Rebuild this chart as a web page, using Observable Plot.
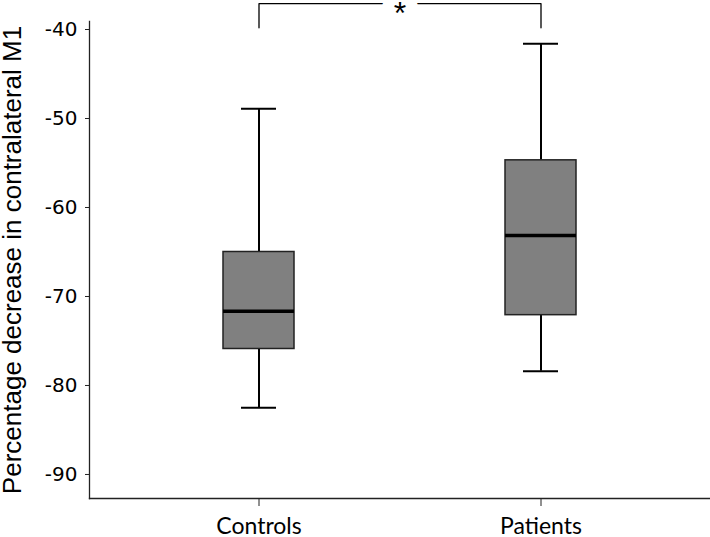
<!DOCTYPE html>
<html><head><meta charset="utf-8">
<script src="https://cdn.jsdelivr.net/npm/d3@7"></script>
<script src="https://cdn.jsdelivr.net/npm/@observablehq/plot@0.6"></script>
<style>body{margin:0;background:#fff;} #chart{width:710px;height:537px;}</style>
</head><body><div id="chart"></div>
<script>
const groups = ["Controls", "Patients"];
const whiskerLow = [-82.5, -78.4];
const q1 = [-75.9, -72.1];
const median = [-71.65, -63.15];
const q3 = [-65.0, -54.7];
const whiskerHigh = [-48.9, -41.6];
const yTicks = [-40, -50, -60, -70, -80, -90];
const yLabel = "Percentage decrease in contralateral M1";
const sigLabel = "*";
const bracketTop = -37.1;
const bracketEnd = -39.8;

const boxes = groups.map((g, i) => ({group: g, lo: whiskerLow[i], q1: q1[i], med: median[i], q3: q3[i], hi: whiskerHigh[i]}));
const bracket = [
  {group: groups[0], y: bracketEnd},
  {group: groups[0], y: bracketTop},
  {group: groups[1], y: bracketTop},
  {group: groups[1], y: bracketEnd}
];

const chart = Plot.plot({
  width: 710, height: 537,
  marginLeft: 89, marginRight: 0, marginTop: 21, marginBottom: 39,
  style: {background: "#fff", color: "#000", overflow: "visible", fontFamily: "Liberation Sans, Arial, sans-serif"},
  x: {domain: groups, type: "band", paddingInner: 0.748, paddingOuter: 0.475, label: null},
  y: {domain: [-92.7, -39.1], label: null},
  marks: [
    Plot.ruleX(boxes, {x: "group", y1: "lo", y2: "q1", stroke: "#000", strokeWidth: 2}),
    Plot.ruleX(boxes, {x: "group", y1: "q3", y2: "hi", stroke: "#000", strokeWidth: 2}),
    Plot.tickY(boxes, {x: "group", y: "lo", insetLeft: 18, insetRight: 18, stroke: "#000", strokeWidth: 2}),
    Plot.tickY(boxes, {x: "group", y: "hi", insetLeft: 18, insetRight: 18, stroke: "#000", strokeWidth: 2}),
    Plot.barY(boxes, {x: "group", y1: "q1", y2: "q3", fill: "#808080", stroke: "#222", strokeWidth: 1.5}),
    Plot.tickY(boxes, {x: "group", y: "med", stroke: "#000", strokeWidth: 3.5}),
    Plot.line(bracket, {x: "group", y: "y", stroke: "#000", strokeWidth: 1.3}),
    Plot.text([sigLabel], {text: d => d, frameAnchor: "top", dy: -20, fontSize: 32, fill: "#000", stroke: "#fff", strokeWidth: 24, strokeLinejoin: "round", fontFamily: "Liberation Sans"}),
    Plot.frame({anchor: "left", stroke: "#222", strokeWidth: 1.3}),
    Plot.frame({anchor: "bottom", stroke: "#222", strokeWidth: 1.3}),
    Plot.axisY({ticks: yTicks, tickSize: 4, tickPadding: 8, fontSize: 20, fontFamily: "DejaVu Sans", label: null, tickFormat: d => String(d), stroke: "#222"}),
    Plot.axisY({ticks: [], label: yLabel, labelAnchor: "center", labelOffset: 87, labelArrow: "none", fontSize: 26, fontFamily: "Liberation Sans"}),
    Plot.axisX({tickSize: 8, tickPadding: 11, fontSize: 23, fontFamily: "Lato", label: null, stroke: "#222"})
  ]
});
document.getElementById("chart").append(chart);
</script>
</body></html>
